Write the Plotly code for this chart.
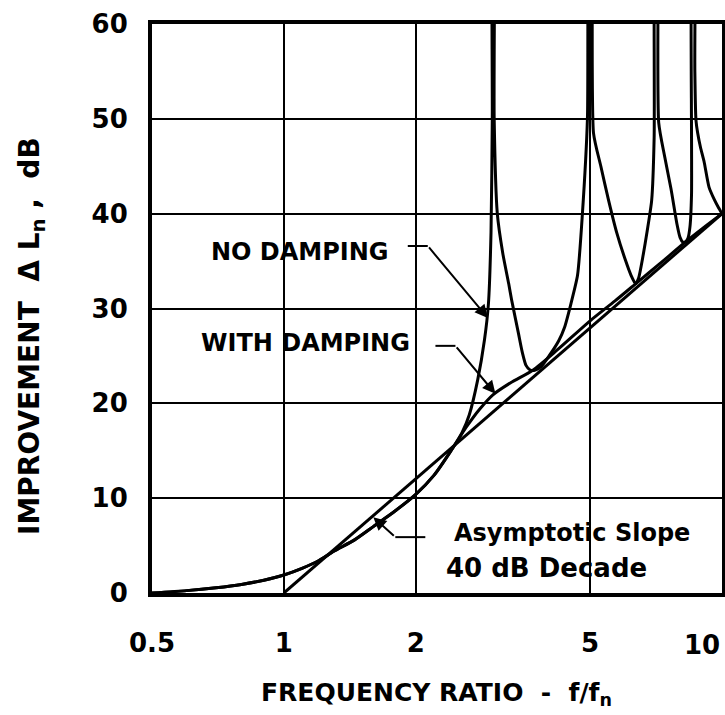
import numpy as np
import plotly.graph_objects as go

# ---------------- data ----------------
x_ticks = [0.5, 1, 2, 5, 10]
x_ticklabels = ["0.5", "1", "2", "5", "10"]
y_ticks = [0, 10, 20, 30, 40, 50, 60]

# asymptote: 40 dB per decade, 0 dB at f/fn = 1
asym_x = [1.0, 10.0]
asym_y = [0.0, 40.0]

# curve with damping
damped_x = [0.5, 0.6, 0.7, 0.8, 0.9, 1.0, 1.1, 1.2, 1.3, 1.45, 1.6, 1.8, 2.0, 2.2,
            2.43, 2.6, 2.8, 3.0, 3.3, 3.7, 4.2, 5.0, 5.7, 6.35, 7.2, 8.24, 9.0, 10.0]
damped_y = [0.0, 0.25, 0.55, 0.9, 1.35, 1.9, 2.6, 3.4, 4.4, 5.6, 7.0, 8.7, 10.4, 12.4,
            15.3, 17.4, 19.4, 20.9, 22.2, 23.5, 25.6, 28.7, 30.8, 32.6, 34.7, 37.0, 38.4, 40.0]

# curve without damping (values above 60 are resonance peaks, clipped by the axes)
undamped_x = [0.5, 0.6, 0.7, 0.8, 0.9, 1.0, 1.1, 1.2, 1.3, 1.45, 1.6, 1.8, 2.0, 2.2, 2.43,
              2.55, 2.65, 2.77, 2.87, 2.93, 2.97, 2.99, 3.0,
              3.01, 3.02, 3.07, 3.16, 3.26, 3.31, 3.43, 3.5, 3.57, 3.65, 3.75, 3.87,
              4.03, 4.24, 4.37, 4.52, 4.68, 4.8, 4.93, 4.99,
              5.02, 5.09, 5.29, 5.51, 5.75, 6.03, 6.2, 6.35, 6.45, 6.6, 6.75, 6.91, 7.0, 7.06,
              7.1, 7.17, 7.4, 7.65, 7.9, 8.02, 8.14, 8.24, 8.36, 8.45, 8.52, 8.57,
              8.62, 8.67, 8.72, 8.8, 8.93, 9.1, 9.34, 9.6, 9.8, 10.0]
undamped_y = [0.0, 0.25, 0.55, 0.9, 1.35, 1.9, 2.6, 3.4, 4.4, 5.6, 7.0, 8.7, 10.4, 12.4, 15.3,
              16.9, 18.8, 22.5, 26.7, 30.5, 38.0, 50.0, 75.0,
              75.0, 50.0, 40.0, 35.8, 32.6, 30.9, 27.4, 25.4, 24.0, 23.5, 23.5, 23.9,
              25.0, 26.6, 28.0, 30.5, 33.5, 39.9, 50.0, 75.0,
              75.0, 48.5, 45.0, 41.4, 38.0, 35.0, 33.5, 32.6, 33.2, 35.5, 38.2, 41.4, 48.0, 75.0,
              75.0, 49.6, 46.0, 42.6, 38.8, 37.5, 37.0, 37.0, 37.4, 38.6, 42.0, 75.0,
              75.0, 55.0, 49.9, 48.5, 47.0, 45.5, 42.8, 41.5, 40.7, 40.0]

# ---------------- layout helpers ----------------
W, H = 725, 715
L, R, T, B = 152, 3, 24, 122
PW, PH = W - L - R, H - T - B
XMIN, XMAX = np.log10(0.5), 1.0
YMIN, YMAX = 0.0, 60.0
FONT = "DejaVu Sans"
TICK_FONT = dict(family=FONT, size=26, color="black", weight="bold")


def px_x(v):
    return L + (np.log10(v) - XMIN) / (XMAX - XMIN) * PW


def px_y(v):
    return T + PH - (v - YMIN) / (YMAX - YMIN) * PH


def paper_x(px):
    return (px - L) / PW


def paper_y(py):
    return (T + PH - py) / PH


fig = go.Figure()
fig.add_trace(go.Scatter(x=asym_x, y=asym_y, mode="lines",
                         line=dict(color="black", width=3), hoverinfo="skip"))
fig.add_trace(go.Scatter(x=damped_x, y=damped_y, mode="lines",
                         line=dict(color="black", width=3, shape="spline", smoothing=0.7),
                         hoverinfo="skip"))
fig.add_trace(go.Scatter(x=undamped_x, y=undamped_y, mode="lines",
                         line=dict(color="black", width=3, shape="spline", smoothing=0.6),
                         hoverinfo="skip"))

shapes = []
annotations = []

# white boxes behind the labels (interrupt the gridlines, not the curves)
for (x0, x1, y0, y1) in [(200, 406, 224, 272), (195, 425, 316, 368), (405, 702, 508, 586)]:
    shapes.append(dict(type="rect", xref="paper", yref="paper",
                       x0=paper_x(x0), x1=paper_x(x1), y0=paper_y(y1), y1=paper_y(y0),
                       fillcolor="white", line=dict(width=0), layer="between"))

# text labels
label_font = dict(family=FONT, size=24, color="black", weight="bold")
for text, cx, cy, anchor, size in [("NO DAMPING", 300, 252, "center", 24),
                                   ("WITH DAMPING", 305, 343, "center", 24),
                                   ("Asymptotic Slope", 452, 533, "left", 24),
                                   ("40 dB Decade", 444, 568, "left", 26)]:
    annotations.append(dict(text=text, xref="paper", yref="paper", x=paper_x(cx), y=paper_y(cy),
                            xanchor=anchor, yanchor="middle", showarrow=False,
                            font=dict(label_font, size=size)))

# leader lines with arrows: (tip x, tip y, tail dx, tail dy, horizontal length, direction)
leaders = [(2.92, 29.0, -60, -72, 20, -1),
           (3.04, 21.0, -40, -48, 20, -1),
           (1.6, 8.0, 22, 20, 30, 1)]
for tx, ty, dx, dy, hl, d in leaders:
    annotations.append(dict(x=np.log10(tx), y=ty, xref="x", yref="y", ax=dx, ay=dy,
                            axref="pixel", ayref="pixel", text="", showarrow=True,
                            arrowhead=2, arrowsize=1.3, arrowwidth=2, arrowcolor="black",
                            standoff=0))
    kx, ky = px_x(tx) + dx, px_y(ty) + dy
    shapes.append(dict(type="line", xref="paper", yref="paper",
                       x0=paper_x(kx), x1=paper_x(kx + d * hl), y0=paper_y(ky), y1=paper_y(ky),
                       line=dict(color="black", width=2), layer="above"))

# last x tick label sits at the right edge of the frame: right-aligned so it stays inside
annotations.append(dict(text=x_ticklabels[-1], xref="x", yref="paper", x=np.log10(x_ticks[-1]),
                        y=paper_y(645), xanchor="right", yanchor="middle", showarrow=False,
                        font=TICK_FONT))

# axis titles
annotations.append(dict(text="IMPROVEMENT  \u0394 L<sub>n</sub> ,  dB", xref="paper", yref="paper",
                        x=paper_x(31), y=paper_y(336), textangle=-90, showarrow=False,
                        xanchor="center", yanchor="middle",
                        font=dict(family=FONT, size=28, color="black", weight="bold")))
annotations.append(dict(text="FREQUENCY RATIO  -  f/f<sub>n</sub>", xref="paper", yref="paper",
                        x=paper_x(436), y=paper_y(694), showarrow=False,
                        xanchor="center", yanchor="middle",
                        font=dict(family=FONT, size=25, color="black", weight="bold")))

axis_common = dict(showgrid=True, gridcolor="black", gridwidth=2, showline=True, linecolor="black",
                   linewidth=4, mirror=True, ticks="", zeroline=False, tickfont=TICK_FONT)

fig.update_layout(
    width=W, height=H, margin=dict(l=L, r=R, t=T, b=B, autoexpand=False),
    plot_bgcolor="white", paper_bgcolor="white", showlegend=False,
    xaxis=dict(type="log", range=[XMIN, XMAX], tickvals=x_ticks[:-1], ticktext=x_ticklabels[:-1],
               ticklabelstandoff=24, **axis_common),
    yaxis=dict(range=[YMIN, YMAX], tickvals=y_ticks, ticklabelstandoff=15, **axis_common),
    shapes=shapes, annotations=annotations,
)

# gridline at the last x tick coincides with the mirrored frame line
fig.write_html("out.html", config={"displayModeBar": False},
               post_script="document.body.style.margin='0px';")
